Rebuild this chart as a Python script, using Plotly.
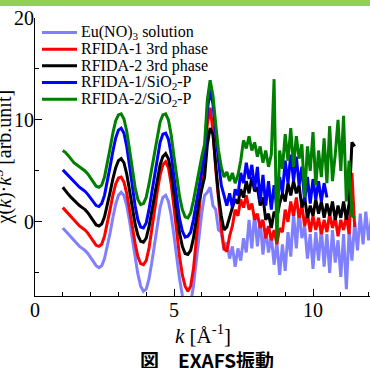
import plotly.graph_objects as go

K = [1.0, 1.1, 1.2, 1.3, 1.4, 1.5, 1.6, 1.7, 1.8, 1.9,
     2.0, 2.1, 2.2, 2.3, 2.4, 2.5, 2.6, 2.7, 2.8, 2.9,
     3.0, 3.1, 3.2, 3.3, 3.4, 3.5, 3.6, 3.7, 3.8, 3.9,
     4.0, 4.1, 4.2, 4.3, 4.4, 4.5, 4.6, 4.7, 4.8, 4.9,
     5.0, 5.1, 5.2, 5.3, 5.4, 5.5, 5.6, 5.7, 5.8, 5.9,
     6.0, 6.1, 6.2, 6.3, 6.4, 6.5, 6.6, 6.7, 6.8, 6.9,
     7.0, 7.1, 7.2, 7.3, 7.4, 7.5, 7.6, 7.7, 7.8, 7.9,
     8.0, 8.1, 8.2, 8.3, 8.4, 8.5, 8.6, 8.7, 8.8, 8.9,
     9.0, 9.1, 9.2, 9.3, 9.4, 9.5, 9.6, 9.7, 9.8, 9.9,
     10.0, 10.1, 10.2, 10.3, 10.4, 10.5, 10.6, 10.7, 10.8, 10.9,
     11.0, 11.1, 11.2, 11.3, 11.4, 11.5, 11.6, 11.7, 11.8, 11.9,
     12.0, 12.1]

EU = [-0.6, -0.9, -1.3, -1.6, -1.9, -2.2, -2.4, -2.6, -2.8, -3.1,
      -3.5, -3.9, -4.3, -4.5, -4.3, -3.6, -2.5, -1.1, 0.4, 1.7,
      2.6, 2.9, 2.6, 1.6, 0.1, -1.7, -3.5, -5.1, -6.3, -6.8,
      -6.6, -5.6, -4.0, -2.1, -0.2, 1.4, 2.4, 2.6, 2.0, 0.6,
      -1.4, -3.6, -5.6, -7.2, -8.2, -8.6, -8.0, -6.3, -3.9, -1.3,
      0.9, 2.6, 2.9, 3.4, 1.6, 1.2, -0.8, -1.0, -2.8, -2.0,
      -3.6, -2.4, -4.4, -2.6, -3.8, -1.6, -3.0, 0.2, -2.6, 0.8,
      -2.4, 0.2, -3.2, -0.6, -3.0, -1.4, -4.2, -2.0, -5.2, -2.2,
      -4.8, -1.0, -3.4, 0.8, -2.6, 1.2, -1.6, -0.4, -3.6, -1.2,
      -4.6, -1.0, -3.8, -0.6, -4.4, -1.2, -5.0, -0.8, -4.0, -1.8,
      -5.4, -1.2, -6.6, -0.8, -3.8, 0.0, -2.8, 0.8, -2.2, 1.0,
      -1.8, 0.4]

RED = [1.4, 1.1, 0.7, 0.4, 0.1, -0.2, -0.4, -0.6, -0.8, -1.1,
       -1.5, -1.9, -2.3, -2.4, -2.2, -1.4, -0.2, 1.2, 2.6, 3.7,
       4.3, 4.4, 3.9, 2.8, 1.2, -0.5, -2.1, -3.4, -4.1, -4.2,
       -3.8, -2.6, -0.9, 1.1, 3.0, 4.6, 5.6, 5.9, 5.3, 3.7,
       1.4, -1.1, -3.4, -5.2, -6.3, -6.8, -6.3, -4.6, -2.0, 1.0,
       4.0, 6.6, 9.6, 11.2, 9.0, 5.2, 2.0, -0.6, -2.6, -2.9,
       -1.4, -0.4, 1.2, 0.6, 2.2, 1.4, 2.6, 1.2, 1.8, 0.2,
       0.8, -0.6, 0.2, -1.6, -0.4, -1.8, -0.8, -2.2, -0.6, -1.0,
       1.2, 0.0, 2.0, 0.6, 2.4, 0.4, 1.6, -0.4, 0.8, -1.0,
       0.6, -0.8, 0.4, -1.2, 0.2, -1.0, 0.8, -0.6, 0.4, -1.4,
       0.2, -0.8, 0.6, -1.2, 4.8, -0.5]

BLACK = [3.4, 3.0, 2.7, 2.4, 2.1, 1.8, 1.6, 1.4, 1.2, 0.9,
         0.5, 0.1, -0.3, -0.4, -0.2, 0.5, 1.6, 2.9, 4.2, 5.3,
         6.0, 6.2, 5.8, 4.7, 3.1, 1.3, -0.2, -1.3, -1.9, -2.0,
         -1.6, -0.5, 1.0, 2.7, 4.3, 5.6, 6.4, 6.7, 6.2, 4.8,
         2.8, 0.7, -1.1, -2.4, -3.1, -3.2, -2.8, -1.6, 0.4, 2.0,
         3.2, 4.4, 7.6, 9.2, 8.6, 5.8, 2.6, 0.6, -0.8, -0.5,
         0.6, 1.4, 2.2, 1.8, 3.2, 2.4, 4.0, 2.8, 4.4, 3.0,
         3.4, 1.6, 2.4, 0.2, 0.8, -0.6, 1.0, 0.4, 1.8, 2.8,
         2.0, 3.8, 2.6, 4.0, 2.8, 3.6, 1.4, 2.4, 0.4, 1.6,
         0.6, 2.2, 0.8, 2.0, 0.4, 1.8, 0.6, 2.0, 0.2, 1.6,
         0.4, 2.0, 0.2, 1.8, 7.8, 7.4]

BLUE = [5.1, 4.8, 4.5, 4.2, 3.9, 3.6, 3.4, 3.2, 3.0, 2.7,
        2.3, 1.9, 1.6, 1.5, 1.8, 2.6, 3.9, 5.4, 6.9, 8.2,
        9.0, 9.2, 8.7, 7.4, 5.5, 3.4, 1.6, 0.2, -0.5, -0.6,
        -0.1, 1.2, 2.9, 4.7, 6.4, 7.8, 8.6, 8.7, 8.1, 6.6,
        4.4, 2.2, 0.3, -0.9, -1.5, -1.4, -1.0, 0.2, 1.8, 3.6,
        5.0, 6.6, 11.0, 12.9, 11.6, 8.6, 6.0, 3.6, 2.6, 1.6,
        2.8, 1.4, 3.2, 2.6, 4.8, 3.8, 5.8, 4.2, 5.6, 3.2,
        5.4, 2.0, 4.6, 1.6, 4.0, 1.2, 3.6, 1.4, 4.4, 2.8,
        6.0, 3.8, 6.6, 4.0, 6.4, 3.6, 5.4, 2.0, 4.4, 1.8,
        4.2, 2.2, 4.0, 2.0, 3.8, 2.4]

GREEN = [7.0, 6.8, 6.5, 6.1, 5.8, 5.6, 5.4, 5.2, 5.0, 4.7,
         4.3, 3.9, 3.5, 3.4, 3.6, 4.4, 5.7, 7.2, 8.7, 9.9,
         10.5, 10.6, 10.1, 8.9, 7.1, 5.1, 3.4, 2.2, 1.7, 1.8,
         2.4, 3.7, 5.3, 7.0, 8.6, 9.8, 10.5, 10.6, 10.0, 8.5,
         6.4, 4.3, 2.5, 1.2, 0.5, 0.4, 0.9, 2.1, 3.6, 5.0,
         6.4, 7.6, 12.0, 13.9, 12.4, 9.6, 7.0, 5.4, 4.4, 4.9,
         4.0, 4.8, 3.8, 4.6, 6.0, 8.0, 7.2, 8.4, 7.0, 7.8,
         6.4, 7.4, 5.8, 7.0, 5.4, 6.6, 14.0, -2.0, 7.0, 5.2,
         8.6, 6.0, 9.2, 5.4, 8.4, 6.2, 7.6, 2.4, 7.4, 5.0,
         8.8, 3.6, 7.0, 4.4, 8.2, 3.8, 9.4, 4.0, 6.6, 10.0,
         5.0, 10.4, 2.0, 6.0, 0.6, 0.4]

NAMES = ["Eu(NO)<sub>3</sub> solution", "RFIDA-1 3rd phase", "RFIDA-2 3rd phase",
         "RFIDA-1/SiO<sub>2</sub>-P", "RFIDA-2/SiO<sub>2</sub>-P"]
SERIES = [EU, RED, BLACK, BLUE, GREEN]
COLORS = ["#8080ff", "#ff0000", "#000000", "#0000ff", "#008000"]

X_TICKS = [0, 5, 10]
Y_TICKS = [0, 10, 20]

W, H = 372, 368
ML, MR, MT, MB = 35, 1, 18, 72
PW, PH = W - ML - MR, H - MT - MB


def px_x(p):
    return (p - ML) / PW


def px_y(p):
    return (H - MB - p) / PH


SERIF = "Liberation Serif, Times New Roman, DejaVu Serif, serif"

fig = go.Figure()
for name, ys, col in zip(NAMES, SERIES, COLORS):
    fig.add_trace(go.Scatter(x=K[:len(ys)], y=ys, mode="lines", name=name,
                             line=dict(color=col, width=3), showlegend=False))

shapes = [dict(type="rect", xref="paper", yref="paper", x0=-0.2, x1=1.2,
               y0=px_y(6), y1=px_y(-2), fillcolor="#92d050", line=dict(width=0), layer="above")]
annotations = []
legend_rows = [32.5, 49.2, 65.8, 82.5, 99.2]
for name, col, yc in zip(NAMES, COLORS, legend_rows):
    shapes.append(dict(type="line", xref="paper", yref="paper", x0=px_x(42), x1=px_x(77),
                       y0=px_y(yc), y1=px_y(yc), line=dict(color=col, width=3)))
    annotations.append(dict(xref="paper", yref="paper", x=px_x(79), y=px_y(yc), text=name,
                            showarrow=False, xanchor="left", yanchor="middle",
                            font=dict(family=SERIF, size=16, color="black")))

annotations.append(dict(xref="paper", yref="paper", x=px_x(3), y=px_y(157.5),
                        text="χ(<i>k</i>)·<i>k</i><sup>3</sup> [arb.unit]", textangle=-90,
                        showarrow=False, xanchor="center", yanchor="middle",
                        font=dict(family=SERIF, size=20, color="black")))
annotations.append(dict(xref="paper", yref="paper", x=px_x(207), y=px_y(359),
                        text="<b>図　EXAFS振動</b>", showarrow=False,
                        xanchor="center", yanchor="middle",
                        font=dict(family="Noto Sans CJK JP", size=19, color="black")))

XR = [0, PW / 27.8]
YR = [-7.27, 20.0001]

common = dict(showgrid=False, zeroline=False, ticks="inside", ticklen=7, tickcolor="black",
              tickwidth=1, linecolor="black", linewidth=1)

fig.update_layout(
    width=W, height=H, margin=dict(l=ML, r=MR, t=MT, b=MB),
    paper_bgcolor="white", plot_bgcolor="white", showlegend=False,
    shapes=shapes, annotations=annotations,
    xaxis=dict(range=XR, showline=True, tickmode="array", tickvals=X_TICKS,
               ticktext=[str(v) for v in X_TICKS],
               minor=dict(dtick=1, tick0=0, ticks="inside", ticklen=4, tickcolor="black"),
               tickfont=dict(family=SERIF, size=20, color="black"),
               ticklabelstandoff=-4,
               title=dict(text="<i>k</i> [Å<sup>-1</sup>]", standoff=0,
                          font=dict(family=SERIF, size=21, color="black")),
               **common),
    xaxis2=dict(range=XR, overlaying="x", side="top", anchor="y", showline=True,
                tickmode="array", tickvals=X_TICKS, showticklabels=False,
                minor=dict(dtick=1, tick0=0, ticks="inside", ticklen=4, tickcolor="black"),
                **common),
    yaxis=dict(range=YR, showline=True, tickmode="array", tickvals=Y_TICKS,
               ticktext=[str(v) for v in Y_TICKS],
               minor=dict(dtick=5, tick0=0, ticks="inside", ticklen=4, tickcolor="black"),
               tickfont=dict(family=SERIF, size=20, color="black"),
               ticklabelstandoff=-4,
               **common),
    yaxis2=dict(range=YR, overlaying="y", side="right", anchor="x", showline=False,
                tickmode="array", tickvals=Y_TICKS, showticklabels=False,
                minor=dict(dtick=5, tick0=0, ticks="inside", ticklen=4, tickcolor="black"),
                **common),
)

fig.write_html("out.html", config={"displayModeBar": False},
               post_script="document.body.style.margin='0';document.body.style.overflow='hidden';")
